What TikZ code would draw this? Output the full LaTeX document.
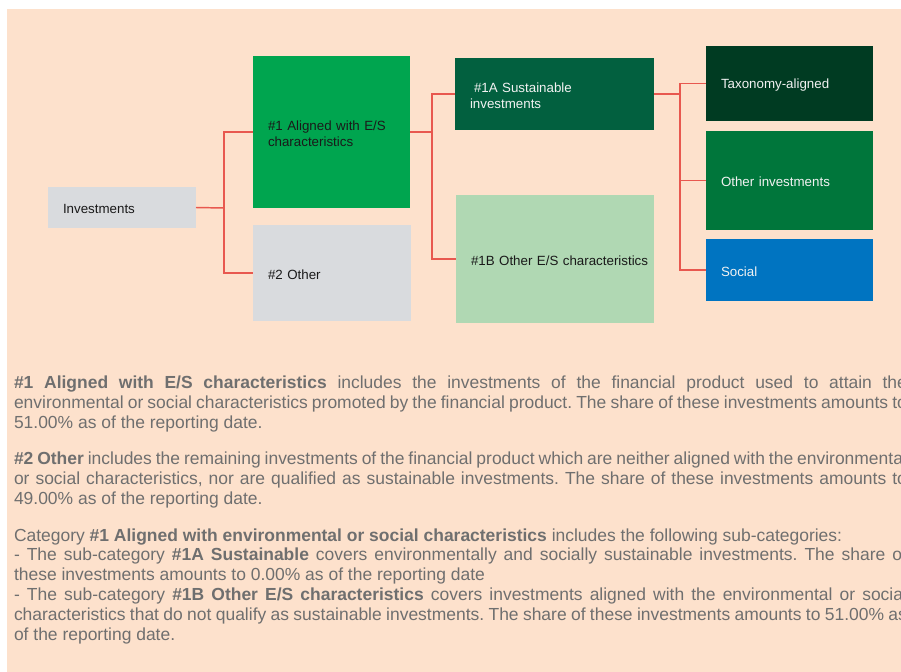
\documentclass[tikz,border=0pt]{standalone}
\usepackage{fontspec}
\setmainfont{Liberation Sans}
\definecolor{bgpeach}{HTML}{FDE1CC}
\definecolor{boxgray}{HTML}{D9DBDE}
\definecolor{greenA}{HTML}{00A54F}
\definecolor{greenS}{HTML}{02603F}
\definecolor{greenL}{HTML}{B0D8B3}
\definecolor{greenT}{HTML}{003B22}
\definecolor{greenO}{HTML}{00763B}
\definecolor{blueS}{HTML}{0074C1}
\definecolor{linered}{HTML}{E8584F}
\definecolor{paragray}{HTML}{6F6F6F}
\definecolor{darktext}{HTML}{1A1A1A}
\definecolor{lighttext}{HTML}{F2F2F2}
\newcommand{\jline}[1]{\makebox[669.75pt][s]{#1}}
\frenchspacing
\begin{document}
\begin{tikzpicture}[x=0.75pt,y=-0.75pt,
  box/.style={rectangle, anchor=north west, inner xsep=11.25pt, inner ysep=0pt,
    outer sep=0pt, align=left, font=\fontsize{10}{12}\selectfont,
    execute at begin node={\rule{0pt}{9.6pt}}},
  darkbox/.style={box, text=darktext},
  lightbox/.style={box, text=lighttext},
  conn/.style={draw=linered, line width=1.1pt},
  para/.style={anchor=base west, inner sep=0pt, outer sep=0pt,
    font=\fontsize{13.1}{15}\selectfont, text=paragray}]
\clip (0,0) rectangle (901,672);
\fill[white] (0,0) rectangle (901,672);
\fill[bgpeach] (7,9) rectangle (901,672);

% boxes
\node[darkbox, fill=boxgray, minimum width=111pt, minimum height=30.75pt, text width=88.5pt] (inv) at (48,187) {Investments};
\node[darkbox, fill=greenA, minimum width=117.75pt, minimum height=114pt, text width=95.25pt] (a1) at (253,56) {\#1 Aligned with E/S\\characteristics};
\node[darkbox, fill=boxgray, minimum width=118.5pt, minimum height=72pt, text width=96pt] (o2) at (253,225) {\#2 Other};
\node[lightbox, fill=greenS, minimum width=149.25pt, minimum height=54pt, text width=126.75pt] (s1a) at (455,58) {\hspace*{3pt}\#1A Sustainable\\investments};
\node[darkbox, fill=greenL, minimum width=148.5pt, minimum height=96pt, text width=126pt] (s1b) at (456,195) {\mbox{\#1B Other E/S characteristics}};
\node[lightbox, fill=greenT, minimum width=125.25pt, minimum height=56.25pt, text width=102.75pt] (tax) at (706,46) {Taxonomy-aligned};
\node[lightbox, fill=greenO, minimum width=125.25pt, minimum height=74.25pt, text width=102.75pt] (oth) at (706,131) {Other investments};
\node[lightbox, fill=blueS, minimum width=125.25pt, minimum height=46.5pt, text width=102.75pt] (soc) at (706,239) {Social};

% connectors
\coordinate (j1) at (224,208);
\coordinate (j2) at (432,132);
\coordinate (j3) at (680,94);
\draw[conn] (inv.east) -- (j1);
\draw[conn] (j1) |- (a1.west);
\draw[conn] (j1) |- (o2.west);
\draw[conn] (a1.east) -- (j2);
\draw[conn] (j2) |- (s1a.west);
\draw[conn] (j2) |- (s1b.west);
\draw[conn] (s1a.east) -- (j3);
\draw[conn] (j3) |- (tax.west);
\draw[conn] (j3) |- (oth.west);
\draw[conn] (j3) |- (soc.west);

% paragraphs
\node[para] (p1a) at (14,388) {\jline{\textbf{\#1 Aligned with E/S characteristics} includes the investments of the financial product used to attain the}};
\node[para] (p1b) at (14,408) {\jline{environmental or social characteristics promoted by the financial product. The share of these investments amounts to}};
\node[para] (p1c) at (14,428) {51.00\% as of the reporting date.};

\node[para] (p2a) at (14,464) {\jline{\textbf{\#2 Other} includes the remaining investments of the financial product which are neither aligned with the environmental}};
\node[para] (p2b) at (14,484) {\jline{or social characteristics, nor are qualified as sustainable investments. The share of these investments amounts to}};
\node[para] (p2c) at (14,504) {49.00\% as of the reporting date.};

\node[para] (p3a) at (14,541) {Category \textbf{\#1 Aligned with environmental or social characteristics} includes the following sub-categories:};
\node[para] (p3b) at (14,560) {\jline{- The sub-category \textbf{\#1A Sustainable} covers environmentally and socially sustainable investments. The share of}};
\node[para] (p3c) at (14,580) {these investments amounts to 0.00\% as of the reporting date};
\node[para] (p3d) at (14,600) {\jline{- The sub-category \textbf{\#1B Other E/S characteristics} covers investments aligned with the environmental or social}};
\node[para] (p3e) at (14,620) {\jline{characteristics that do not qualify as sustainable investments. The share of these investments amounts to 51.00\% as}};
\node[para] (p3f) at (14,640) {of the reporting date.};
\end{tikzpicture}
\end{document}
